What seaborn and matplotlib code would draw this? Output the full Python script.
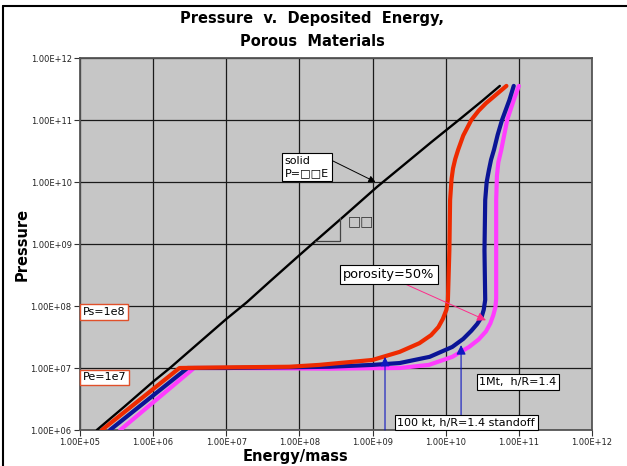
import numpy as np
import pandas as pd
import matplotlib
matplotlib.use("Agg")
import matplotlib.pyplot as plt
from matplotlib.lines import Line2D
from matplotlib.ticker import FixedLocator, FuncFormatter, NullLocator
import seaborn as sns

# ---- data (log10 of energy/mass, log10 of pressure) ----
solid_logE = [5.23, 5.6, 6.0, 6.23, 6.6, 7.0, 7.28, 7.6, 8.0, 8.27, 8.6, 9.06, 9.4, 9.8, 10.2, 10.5, 10.74]
solid_logP = [6.0, 6.37, 6.78, 7.0, 7.38, 7.79, 8.06, 8.40, 8.82, 9.10, 9.44, 9.92, 10.25, 10.64, 11.02, 11.31, 11.55]

red_logE = [5.30, 6.36, 7.0, 7.86, 8.27, 9.0, 9.37, 9.64, 9.80, 9.90, 9.96, 10.01, 10.03, 10.05,
            10.06, 10.08, 10.10, 10.13, 10.17, 10.24, 10.35, 10.45, 10.55, 10.83]
red_logP = [6.0, 7.0, 7.01, 7.02, 7.05, 7.13, 7.26, 7.40, 7.53, 7.66, 7.79, 7.94, 8.10, 8.90,
            9.71, 10.05, 10.22, 10.37, 10.52, 10.75, 11.0, 11.15, 11.27, 11.55]

blue_logE = [5.41, 6.47, 7.0, 8.41, 9.0, 9.37, 9.78, 10.09, 10.24, 10.35, 10.43, 10.49, 10.52, 10.54,
             10.53, 10.54, 10.56, 10.59, 10.62, 10.66, 10.71, 10.77, 10.87, 10.93]
blue_logP = [6.0, 7.0, 7.0, 7.02, 7.05, 7.08, 7.18, 7.34, 7.47, 7.60, 7.71, 7.82, 7.94, 8.10,
             8.90, 9.71, 10.0, 10.19, 10.36, 10.52, 10.76, 11.0, 11.32, 11.55]

pink_logE = [5.55, 6.56, 7.0, 8.41, 9.37, 9.77, 10.09, 10.32, 10.45, 10.55, 10.61, 10.65, 10.68, 10.69,
             10.69, 10.69, 10.70, 10.72, 10.76, 10.80, 10.84, 10.93, 11.0]
pink_logP = [6.0, 7.0, 7.0, 6.99, 7.0, 7.05, 7.18, 7.34, 7.46, 7.59, 7.72, 7.85, 7.98, 8.12,
             8.90, 9.71, 10.1, 10.32, 10.52, 10.76, 11.0, 11.32, 11.55]

x_ticks = [1e5, 1e6, 1e7, 1e8, 1e9, 1e10, 1e11, 1e12]
y_ticks = [1e6, 1e7, 1e8, 1e9, 1e10, 1e11, 1e12]

def mk(name, le, lp):
    return pd.DataFrame({"E": 10 ** np.array(le), "P": 10 ** np.array(lp),
                         "series": name, "order": np.arange(len(le))})

df = pd.concat([mk("solid", solid_logE, solid_logP),
                mk("red", red_logE, red_logP),
                mk("blue", blue_logE, blue_logP),
                mk("pink", pink_logE, pink_logP)], ignore_index=True)

sns.set_theme(style="white")
plt.rcParams['font.family'] = ['DejaVu Sans']
plt.rcParams['text.color'] = 'black'

fig = plt.figure(figsize=(6.27, 4.66), dpi=100)
ax = fig.add_axes([80 / 627, 1 - 430 / 466, 512 / 627, 372 / 466])
ax.set_facecolor("#c6c6c6")

palette = {"solid": "#000000", "red": "#ee2a00", "blue": "#0a1496", "pink": "#ff3cff"}
widths = {"solid": 1.7, "red": 3.0, "blue": 3.0, "pink": 3.0}
order = ["pink", "blue", "red", "solid"]
for name in order:
    sub = df[df.series == name]
    sns.lineplot(data=sub, x="E", y="P", sort=False, ax=ax, color=palette[name],
                 lw=widths[name], estimator=None, legend=False,
                 zorder={"pink": 3, "blue": 4, "red": 5, "solid": 6}[name])
for l in ax.get_lines():
    l.set_solid_joinstyle("round")
    l.set_solid_capstyle("round")

ax.set_xscale("log")
ax.set_yscale("log")
ax.set_xlim(1e5, 1e12)
ax.set_ylim(1e6, 1e12)
ax.xaxis.set_major_locator(FixedLocator(x_ticks))
ax.yaxis.set_major_locator(FixedLocator(y_ticks))
ax.xaxis.set_minor_locator(NullLocator())
ax.yaxis.set_minor_locator(NullLocator())

def excel_fmt(v, pos):
    e = int(round(np.log10(v)))
    return "1.00E+%02d" % e

ax.xaxis.set_major_formatter(FuncFormatter(excel_fmt))
ax.yaxis.set_major_formatter(FuncFormatter(excel_fmt))
ax.tick_params(axis="both", which="major", labelsize=6, length=4, width=0.8,
               direction="out", color="#333333", labelcolor="#222222", pad=2)
ax.tick_params(bottom=True, left=True)
ax.grid(True, color="#1a1a1a", lw=0.9)
ax.set_axisbelow(True)
for s in ax.spines.values():
    s.set_color("#555555")
    s.set_linewidth(1.3)
ax.set_xlabel("")
ax.set_ylabel("")

# axis labels & title
fig.text(296 / 627, 1 - 456 / 466, "Energy/mass", ha="center", va="center",
         fontsize=10.5, fontweight="bold", color="black")
fig.text(22 / 627, 1 - 244 / 466, "Pressure", ha="center", va="center",
         rotation=90, fontsize=10.5, fontweight="bold", color="black")
fig.text(312 / 627, 1 - 30 / 466, "Pressure  v.  Deposited  Energy,\nPorous  Materials",
         ha="center", va="center", fontsize=10.5, fontweight="bold", linespacing=1.65,
         color="black")

# figure frame lines
fig.add_artist(Line2D([3 / 627, 1.0], [1 - 6 / 466, 1 - 6 / 466], color="black", lw=1.5,
                      transform=fig.transFigure))
fig.add_artist(Line2D([3 / 627, 3 / 627], [0, 1 - 6 / 466], color="black", lw=1.5,
                      transform=fig.transFigure))

box = dict(boxstyle="square,pad=0.25", fc="white", ec="black", lw=0.8)
rbox = dict(boxstyle="square,pad=0.25", fc="white", ec="#e0502a", lw=1.0)

# solid annotation
ax.annotate("solid\nP=\u25a1\u25a1E", xy=(10 ** 9.04, 10 ** 10.0), xytext=(10 ** 7.8, 10 ** 10.24),
            fontsize=8, va="center", ha="left", bbox=box, linespacing=1.4,
            arrowprops=dict(arrowstyle="-|>", color="black", lw=0.7, mutation_scale=10,
                            shrinkA=0, shrinkB=0, relpos=(1.0, 0.85)), zorder=10)

# slope triangle
ax.plot([10 ** 8.21, 10 ** 8.56, 10 ** 8.56], [10 ** 9.05, 10 ** 9.05, 10 ** 9.42],
        color="#444444", lw=0.9, zorder=7)
ax.text(10 ** 8.66, 10 ** 9.36, "\u25a1\u25a1", fontsize=10, color="#333333",
        va="center", ha="left", zorder=7)

# porosity
ax.annotate("porosity=50%", xy=(10 ** 10.55, 10 ** 7.77), xytext=(10 ** 8.6, 10 ** 8.51),
            fontsize=9.3, va="center", ha="left", bbox=box,
            arrowprops=dict(arrowstyle="-|>", color="#ff2a8a", lw=0.7, mutation_scale=13,
                            shrinkA=0, shrinkB=0, relpos=(0.6, 0.0)), zorder=10)

# Ps / Pe
ax.text(10 ** 5.04, 10 ** 7.9, "Ps=1e8", fontsize=8, va="center", ha="left", bbox=rbox, zorder=10)
ax.text(10 ** 5.04, 10 ** 6.85, "Pe=1e7", fontsize=8, va="center", ha="left", bbox=rbox, zorder=10)

# blue arrows
ax.annotate("", xy=(10 ** 10.21, 10 ** 7.37), xytext=(10 ** 10.21, 10 ** 6.24),
            arrowprops=dict(arrowstyle="-|>", color="#1018c0", lw=0.8, mutation_scale=14,
                            shrinkA=0, shrinkB=0), zorder=8)
ax.annotate("", xy=(10 ** 9.17, 10 ** 7.18), xytext=(10 ** 9.17, 10 ** 6.0),
            arrowprops=dict(arrowstyle="-|>", color="#1018c0", lw=0.8, mutation_scale=14,
                            shrinkA=0, shrinkB=0), zorder=8)
ax.text(10 ** 10.46, 10 ** 6.77, "1Mt,  h/R=1.4", fontsize=8, va="center", ha="left",
        bbox=box, zorder=10)
ax.text(10 ** 9.34, 10 ** 6.12, "100 kt, h/R=1.4 standoff", fontsize=8, va="center", ha="left",
        bbox=box, zorder=10)

fig.savefig("out.png", dpi=100)
